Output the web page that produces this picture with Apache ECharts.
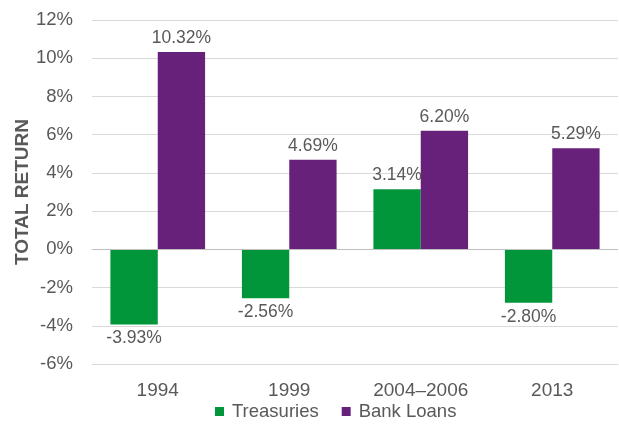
<!DOCTYPE html>
<html>
<head>
<meta charset="utf-8">
<script src="https://cdn.jsdelivr.net/npm/echarts@6/dist/echarts.min.js"></script>
<style>
  html, body { margin: 0; padding: 0; background: #fff; }
  #chart { width: 619px; height: 427px; }
</style>
</head>
<body>
<div id="chart"></div>
<script>
// Periods shown along the x axis
const periods = ['1994', '1999', '2004\u20132006', '2013'];
// Total return (%) per period
const treasuries = [-3.93, -2.56, 3.14, -2.80];
const bankLoans = [10.32, 4.69, 6.20, 5.29];
// Value axis range and step (%)
const yMin = -6, yMax = 12, yStep = 2;

const textColor = '#595959';
const font = '"Liberation Sans", Arial, sans-serif';

const chart = echarts.init(document.getElementById('chart'));

function pctLabel(p) {
  return p.value.toFixed(2) + '%';
}

chart.setOption({
  animation: false,
  textStyle: { fontFamily: font },
  grid: { left: 92, right: 1, top: 20, bottom: 63 },
  legend: {
    bottom: 1,
    left: 210,
    itemWidth: 9,
    itemHeight: 9,
    itemGap: 23,
    icon: 'rect',
    textStyle: { color: textColor, fontSize: 18.5, fontFamily: font, padding: [0, 0, 0, 3] },
    data: ['Treasuries', 'Bank Loans']
  },
  xAxis: {
    type: 'category',
    data: periods,
    axisLine: { onZero: false, lineStyle: { color: '#d9d9d9' } },
    axisTick: { show: false },
    axisLabel: { color: textColor, fontSize: 19, margin: 17, fontFamily: font }
  },
  yAxis: {
    type: 'value',
    min: yMin,
    max: yMax,
    interval: yStep,
    name: 'TOTAL RETURN',
    nameLocation: 'middle',
    nameGap: 60,
    nameMoveOverlap: false,
    nameTextStyle: { color: textColor, fontSize: 19, fontWeight: 'bold', fontFamily: font },
    axisLine: { show: false },
    axisTick: { show: false },
    axisLabel: { color: textColor, fontSize: 18.5, margin: 19, formatter: '{value}%', fontFamily: font },
    splitLine: { lineStyle: { color: '#d9d9d9', width: 1 } }
  },
  series: [
    {
      name: 'Treasuries',
      type: 'bar',
      data: treasuries.map(v => ({
        value: v,
        label: { position: v < 0 ? 'bottom' : 'top' }
      })),
      itemStyle: { color: '#009639' },
      barGap: '0%',
      barCategoryGap: '28%',
      label: {
        show: true,
        color: textColor,
        fontSize: 17.5,
        distance: 5,
        fontFamily: font,
        formatter: pctLabel
      },
      markLine: {
        silent: true,
        symbol: 'none',
        label: { show: false },
        lineStyle: { color: '#bfbfbf', type: 'solid', width: 1 },
        data: [{ yAxis: 0 }]
      }
    },
    {
      name: 'Bank Loans',
      type: 'bar',
      data: bankLoans,
      itemStyle: { color: '#68217a' },
      barGap: '0%',
      barCategoryGap: '28%',
      label: {
        show: true,
        position: 'top',
        color: textColor,
        fontSize: 17.5,
        distance: 5,
        fontFamily: font,
        formatter: pctLabel
      }
    }
  ]
});
</script>
</body>
</html>
